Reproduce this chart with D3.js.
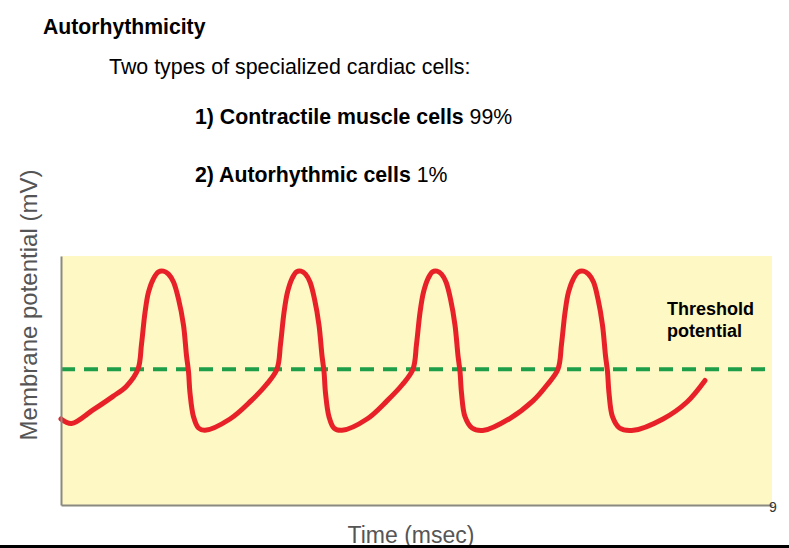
<!DOCTYPE html>
<html>
<head>
<meta charset="utf-8">
<script src="https://cdn.jsdelivr.net/npm/d3@7"></script>
<style>
  body { margin: 0; background: #fff; }
  svg { display: block; font-family: "Liberation Sans", Arial, sans-serif; }
</style>
</head>
<body>
<div id="chart"></div>
<script>
// time in msec (arbitrary units), membrane potential in mV
const timeMs = [
  0, 21, 64, 104, 131,
  154, 161, 168, 175, 185, 195, 205, 215, 225, 235, 245, 251, 255, 258, 265, 275, 288, 338, 380, 410,
  432, 439, 446, 453, 462, 471, 480, 489, 498, 507, 516, 522, 526, 529, 536, 546, 562, 612, 652, 682,
  704, 711, 718, 725, 734, 743, 752, 761, 770, 779, 788, 794, 798, 801, 808, 822, 846, 896, 944, 972,
  994, 1001, 1008, 1015, 1025, 1035, 1045, 1055, 1065, 1074, 1083, 1089, 1093, 1096, 1103, 1117, 1145, 1204, 1252, 1288
];
const potentialMv = [
  -52, -54, -48, -42, -37.5,
  -30, -19, -5, 4, 10, 13, 13.3, 12, 8.5, 1, -10.5, -24, -31, -40.5, -51, -56, -57, -52, -44, -37,
  -30, -19, -5, 4, 10, 13, 13.3, 12, 8.5, 1, -10.5, -24, -31, -40.5, -51, -56, -57, -52, -44, -37,
  -30, -19, -5, 4, 10, 13, 13.3, 12, 8.5, 1, -10.5, -24, -31, -40.5, -51, -56, -57, -52, -44, -37,
  -30, -19, -5, 4, 10, 13, 13.3, 12, 8.5, 1, -10.5, -24, -31, -40.5, -51, -56, -57, -52, -44.5, -35
];
const thresholdMv = -30;
const timeDomain = [0, 1422];
const mvDomain = [-90, 20];

const W = 789, H = 548;
const svg = d3.select('#chart').append('svg')
  .attr('width', W).attr('height', H);

// slide text
svg.append('text').attr('x', 43).attr('y', 34)
  .attr('font-size', 21.2).attr('font-weight', 'bold').text('Autorhythmicity');
svg.append('text').attr('x', 109).attr('y', 74)
  .attr('font-size', 21.4).text('Two types of specialized cardiac cells:');

let t1 = svg.append('text').attr('x', 195).attr('y', 124).attr('font-size', 21.3);
t1.append('tspan').attr('font-weight', 'bold').text('1) Contractile muscle cells');
t1.append('tspan').text(' 99%');
let t2 = svg.append('text').attr('x', 195).attr('y', 182).attr('font-size', 21.3);
t2.append('tspan').attr('font-weight', 'bold').text('2) Autorhythmic cells');
t2.append('tspan').text(' 1%');

const x = d3.scaleLinear().domain(timeDomain).range([61, 772]);
const y = d3.scaleLinear().domain(mvDomain).range([505, 256]);

// plot background
svg.append('rect')
  .attr('x', x(timeDomain[0])).attr('y', y(mvDomain[1]))
  .attr('width', x(timeDomain[1]) - x(timeDomain[0]))
  .attr('height', y(mvDomain[0]) - y(mvDomain[1]))
  .attr('fill', '#fdf8c4');

// threshold
svg.append('line')
  .attr('x1', x(timeDomain[0])).attr('x2', x(timeDomain[1]))
  .attr('y1', y(thresholdMv)).attr('y2', y(thresholdMv))
  .attr('stroke', '#1e9e48').attr('stroke-width', 4)
  .attr('stroke-dasharray', '14,9');

// action potentials
const pts = timeMs.map((t, i) => [t, potentialMv[i]]);
const line = d3.line()
  .x(d => x(d[0])).y(d => y(d[1]))
  .curve(d3.curveCatmullRom.alpha(0.5));
svg.append('path').datum(pts)
  .attr('d', line)
  .attr('fill', 'none')
  .attr('stroke', '#e82129')
  .attr('stroke-width', 5)
  .attr('stroke-linecap', 'round')
  .attr('stroke-linejoin', 'round');

// axes
svg.append('g').attr('transform', 'translate(' + x(timeDomain[0]) + ',0)')
  .call(d3.axisLeft(y).ticks(0).tickSizeOuter(0));
svg.append('g').attr('transform', 'translate(0,' + y(mvDomain[0]) + ')')
  .call(d3.axisBottom(x).ticks(0).tickSizeOuter(0));
svg.selectAll('.domain').attr('stroke', '#8a8a80').attr('stroke-width', 2);

svg.append('text').attr('x', 667).attr('y', 315)
  .attr('font-size', 18).attr('font-weight', 'bold').text('Threshold');
svg.append('text').attr('x', 667).attr('y', 337)
  .attr('font-size', 18).attr('font-weight', 'bold').text('potential');

svg.append('text')
  .attr('transform', 'translate(37,305) rotate(-90)')
  .attr('text-anchor', 'middle')
  .attr('font-size', 24).attr('fill', '#555')
  .text('Membrane potential (mV)');

svg.append('text').attr('x', 411).attr('y', 543)
  .attr('text-anchor', 'middle')
  .attr('font-size', 23).attr('fill', '#555')
  .text('Time (msec)');

svg.append('text').attr('x', 773).attr('y', 512)
  .attr('text-anchor', 'middle')
  .attr('font-size', 14).attr('fill', '#333')
  .text('9');

// bottom rule of the slide
svg.append('rect').attr('x', 0).attr('y', 545).attr('width', W).attr('height', 3).attr('fill', '#000');
</script>
</body>
</html>
